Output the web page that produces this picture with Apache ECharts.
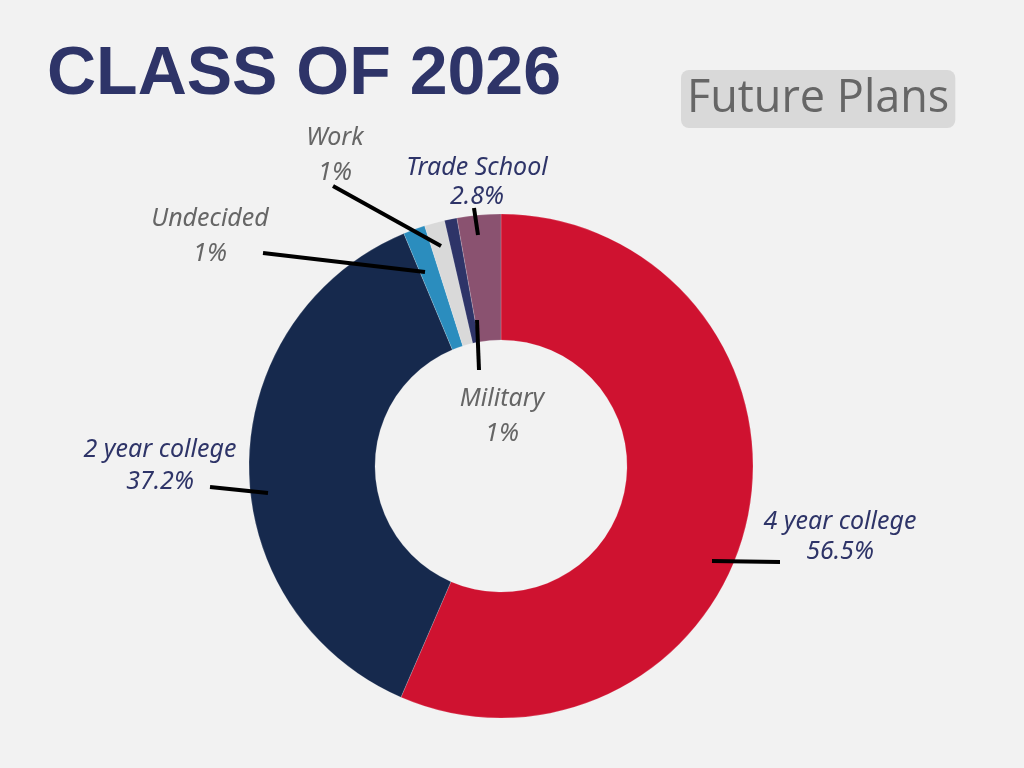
<!DOCTYPE html>
<html>
<head>
    <meta charset="utf-8">
    <title>Class of 2026 - Future Plans</title>
    <script src="https://cdn.jsdelivr.net/npm/echarts@6/dist/echarts.min.js"></script>
    <style>
        html,body{
            height: 100%;
            margin: 0;
            padding: 0;
            background: #f2f2f2;
        }
    </style>
</head>
<body>
    <div id="main" style="width: 1024px;height:768px;"></div>
    <script type="text/javascript">
    // data, clockwise from 12 o'clock
    var categories = ['4 year college', '2 year college', 'Undecided', 'Work', 'Military', 'Trade School'];
    var values = [56.5, 37.2, 1.4, 1.3, 0.8, 2.8];
    var valueLabels = ['56.5%', '37.2%', '1%', '1%', '1%', '2.8%'];
    var sliceColors = ['#cf1230', '#16294d', '#2b8dbe', '#d9d9d9', '#2e3468', '#8a5270'];

    var NAVY = '#2e3468';
    var GREY = '#666666';

    // where each label sits and its pointer line (pixels)
    var labelPlaces = [
        {x: 840, y: 537, color: NAVY, lh: 30, line: [[712, 561], [780, 562]]},
        {x: 160, y: 466, color: NAVY, lh: 32, line: [[210, 487], [268, 493]]},
        {x: 210, y: 236, color: GREY, lh: 35, line: [[263, 253], [425, 272]]},
        {x: 335, y: 155, color: GREY, lh: 35, line: [[333, 186], [441, 246]]},
        {x: 502, y: 416, color: GREY, lh: 35, line: [[477, 320], [479, 370]]},
        {x: 477, y: 182, color: NAVY, lh: 29, line: [[474, 208], [478, 235]]}
    ];

    var pieData = [];
    var pointers = [];
    for (var i = 0; i < categories.length; i++) {
        pieData.push({
            name: categories[i],
            value: values[i],
            itemStyle: {color: sliceColors[i]},
            label: {color: labelPlaces[i].color, lineHeight: labelPlaces[i].lh}
        });
        var ln = labelPlaces[i].line;
        pointers.push({
            type: 'line',
            z: 100,
            shape: {x1: ln[0][0], y1: ln[0][1], x2: ln[1][0], y2: ln[1][1]},
            style: {stroke: '#000000', lineWidth: 4}
        });
    }

    var myChart = echarts.init(document.getElementById('main'));

    var option = {
        backgroundColor: '#f2f2f2',
        animation: false,
        title: [
            {
                text: 'CLASS OF 2026',
                left: 42,
                top: 36,
                textStyle: {
                    fontFamily: 'Liberation Sans',
                    fontWeight: 'bold',
                    fontSize: 68,
                    color: NAVY
                }
            },
            {
                text: 'Future Plans',
                left: 681,
                top: 70,
                padding: [6, 6, 6, 6],
                backgroundColor: '#d9d9d9',
                borderRadius: 8,
                textStyle: {
                    fontFamily: 'Open Sans',
                    fontWeight: 'normal',
                    fontSize: 45,
                    lineHeight: 46,
                    color: '#666666'
                }
            }
        ],
        graphic: pointers,
        series: [
            {
                type: 'pie',
                center: [501, 466],
                radius: [126, 252],
                startAngle: 90,
                clockwise: true,
                itemStyle: {
                    borderColor: 'rgba(255,255,255,0.35)',
                    borderWidth: 0.5
                },
                label: {
                    show: true,
                    fontFamily: 'Noto Sans',
                    fontStyle: 'italic',
                    fontSize: 25,
                    align: 'center',
                    formatter: function (p) {
                        return p.name + '\n' + valueLabels[p.dataIndex];
                    }
                },
                labelLine: {
                    show: false
                },
                labelLayout: function (params) {
                    var lp = labelPlaces[params.dataIndex];
                    return {
                        x: lp.x,
                        y: lp.y,
                        align: 'center',
                        verticalAlign: 'middle'
                    };
                },
                data: pieData
            }
        ]
    };

    myChart.setOption(option);
    </script>
</body>
</html>
